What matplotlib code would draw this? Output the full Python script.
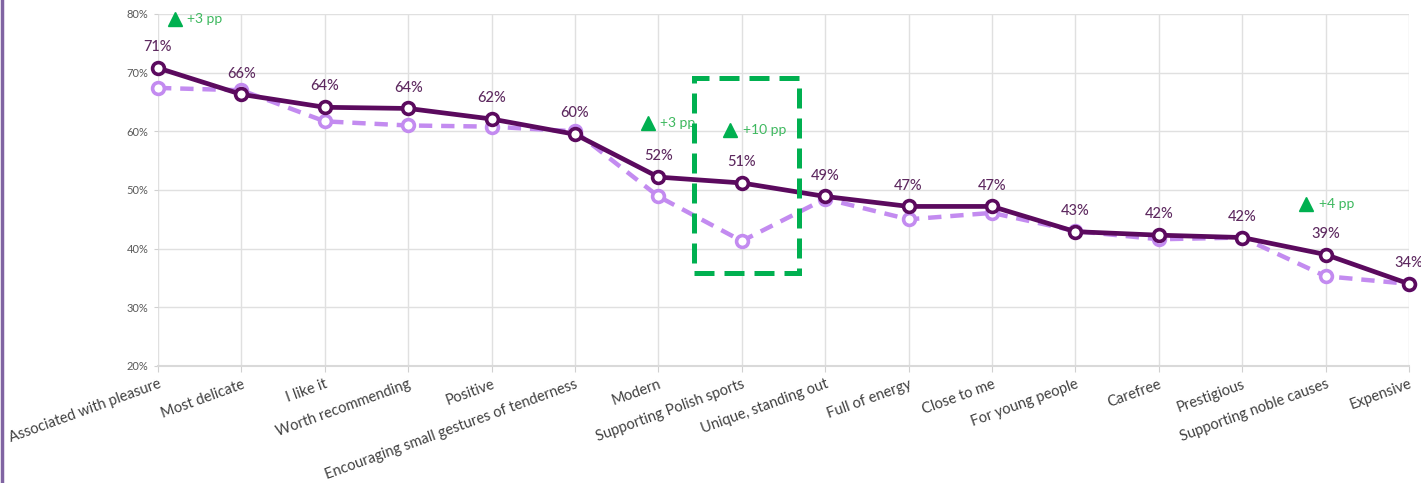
import matplotlib.pyplot as plt
import matplotlib.patches as patches
from matplotlib.lines import Line2D

plt.rcParams['font.family'] = ['Lato', 'DejaVu Sans']

# kategorie i wartości (w %)
categories = ['Associated with pleasure', 'Most delicate', 'I like it', 'Worth recommending',
              'Positive', 'Encouraging small gestures of tenderness', 'Modern',
              'Supporting Polish sports', 'Unique, standing out', 'Full of energy',
              'Close to me', 'For young people', 'Carefree', 'Prestigious',
              'Supporting noble causes', 'Expensive']
current = [70.8, 66.3, 64.1, 63.9, 62.1, 59.5, 52.2, 51.2, 48.9, 47.2,
           47.2, 42.9, 42.3, 41.9, 39.0, 34.0]
previous = [67.4, 67.0, 61.7, 61.0, 60.8, 60.0, 48.9, 41.3, 48.5, 45.0,
            46.1, 43.0, 41.6, 41.9, 35.3, 34.0]
labels = ['71%', '66%', '64%', '64%', '62%', '60%', '52%', '51%', '49%', '47%',
          '47%', '43%', '42%', '42%', '39%', '34%']

# adnotacje zmian (pozycja x, pozycja y, tekst)
change_x = [0.2, 5.87, 6.86, 13.77]
change_y = [79.1, 61.4, 60.2, 47.6]
change_txt = ['+3 pp', '+3 pp', '+10 pp', '+4 pp']

dark = '#5B0A5E'
light = '#C38BF0'
green = '#00B050'

fig = plt.figure(figsize=(14.21, 4.83), dpi=100)
ax = fig.add_axes([158 / 1421, 117 / 483, (1409 - 158) / 1421, (469 - 117) / 483])

x = range(len(categories))
ax.plot(x, previous, color=light, lw=3.2, ls=(0, (3, 2)), marker='o', ms=8.5,
        mfc='white', mec=light, mew=2.6, clip_on=False, zorder=3)
ax.plot(x, current, color=dark, lw=3.4, marker='o', ms=8.5,
        mfc='white', mec=dark, mew=2.6, clip_on=False, zorder=4)

for i, (v, t) in enumerate(zip(current, labels)):
    ax.annotate(t, (i, v), xytext=(0, 15), textcoords='offset points',
                ha='center', va='center', fontsize=10.5, fontweight='medium',
                color='#5E2A60', annotation_clip=False)

for cx, cy, t in zip(change_x, change_y, change_txt):
    ax.plot(cx, cy, marker='^', ms=9.5, color=green, clip_on=False, zorder=5)
    ax.annotate(t, (cx, cy), xytext=(9, 0), textcoords='offset points',
                ha='left', va='center', fontsize=10, color='#3DB85E',
                annotation_clip=False)

rect = patches.Rectangle((6.43, 35.8), 1.26, 33.3, fill=False, ec=green, lw=3.6,
                         ls=(0, (4, 2)), clip_on=False, zorder=6)
ax.add_patch(rect)

ax.set_xlim(0, len(categories) - 1)
ax.set_ylim(20, 80)
ax.set_xticks(list(x))
ax.set_xticklabels(categories, rotation=20, ha='right', rotation_mode='anchor',
                   fontsize=10.5, color='#404040')
ax.set_yticks(range(20, 81, 10))
ax.set_yticklabels([f'{v}%' for v in range(20, 81, 10)], fontsize=8, color='#595959')
ax.tick_params(axis='x', length=4, color='#D0D0D0', pad=4)
ax.tick_params(axis='y', length=3, color='#D0D0D0', pad=4)
ax.grid(True, color='#E0E0E0', lw=1)
ax.set_axisbelow(True)
for s in ['left', 'top', 'right']:
    ax.spines[s].set_visible(False)
ax.spines['bottom'].set_color('#D9D9D9')
ax.spines['bottom'].set_linewidth(1.5)

# fioletowa ramka z lewej strony
fig.add_artist(Line2D([0.0012, 0.0012], [0, 1], color='#8064A2', lw=2.5))

fig.savefig('out.png', dpi=100)
